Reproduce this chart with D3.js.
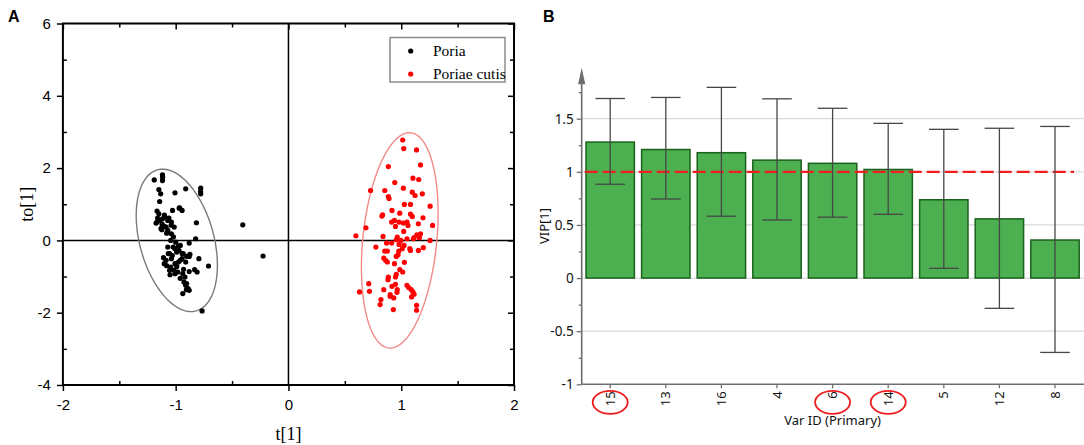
<!DOCTYPE html>
<html><head><meta charset="utf-8">
<script src="https://cdn.jsdelivr.net/npm/d3@7"></script>
<style>body{margin:0;background:#fff}svg{display:block}</style>
</head><body>
<svg id="c" width="1084" height="445"></svg>
<script>
// ---------- Panel A data (OPLS-DA scores) ----------
const poriaT = [-1.190,-1.117,-1.117,-1.149,-1.133,-1.142,-1.006,-0.911,-0.778,-0.778,-1.165,-1.149,-1.165,-1.174,-1.139,-1.117,-1.095,-1.070,-1.028,-0.965,-0.943,-1.038,-1.013,-1.085,-1.070,-1.123,-1.101,-0.816,-0.823,-0.880,-1.038,-1.044,-1.022,-1.070,-1.006,-0.975,-0.959,-0.991,-0.943,-1.054,-1.038,-1.085,-1.108,-1.101,-1.006,-0.975,-0.943,-0.880,-0.794,-0.911,-1.044,-1.013,-0.981,-1.054,-1.006,-0.937,-0.918,-0.832,-0.810,-0.709,-0.927,-0.911,-0.905,-0.880,-0.937,-0.766,-0.405,-0.225,-1.16,-1.12,-1.10,-1.06,-1.04,-1.13,-1.08,-1.02,-1.00,-0.97,-1.03,-0.96,-1.08,-0.99,-0.93,-1.05,-0.88,-0.96,-1.116,-0.779,-0.969,-1.066,-0.933,-0.874,-0.903,-0.889,-0.903];
const poriaTo = [1.674,1.812,1.656,1.408,1.288,1.076,1.316,1.426,1.444,1.288,0.810,0.736,0.506,0.478,0.552,0.598,0.644,0.552,0.828,0.902,0.828,0.506,0.368,0.368,0.276,0.294,0.386,0.488,0.046,-0.074,0.184,0.000,-0.184,-0.184,-0.230,-0.166,-0.138,-0.322,-0.368,-0.368,-0.506,-0.552,-0.478,-0.644,-0.644,-0.598,-0.506,-0.442,-0.506,-0.598,-0.736,-0.828,-0.874,-0.828,-0.920,-0.920,-1.012,-0.810,-0.874,-0.708,-1.150,-1.242,-1.362,-1.380,-1.472,-1.950,0.432,-0.432,0.62,0.45,0.70,0.62,0.42,0.33,0.20,0.10,-0.05,-0.28,-0.42,-0.55,-0.70,-0.72,-0.80,-0.95,-0.86,-1.05,1.746,1.35,0.891,-0.368,-0.368,-0.386,-0.44,-1.333,-1.195];
const cutisT = [1.013,1.022,1.136,1.171,0.886,0.943,1.104,1.155,0.728,0.854,1.019,1.098,1.123,0.886,0.892,1.187,1.028,1.082,1.256,0.918,0.835,0.829,0.987,1.082,1.098,1.193,0.687,0.915,0.940,0.981,1.019,0.949,1.051,1.060,1.152,1.278,1.022,1.171,1.139,0.598,0.839,0.965,0.956,0.997,1.051,1.108,1.114,1.161,1.256,0.775,0.870,0.915,0.981,1.025,1.009,1.076,1.082,1.152,1.196,0.854,0.877,0.978,0.972,0.956,0.845,0.861,0.877,0.940,1.028,0.987,1.013,0.956,0.949,0.886,0.883,0.918,0.712,0.718,0.630,0.845,0.949,1.051,1.066,1.089,1.104,1.114,0.965,0.962,0.902,0.902,0.934,1.092,0.820,0.813,0.930,1.136,1.136];
const cutisTo = [2.778,2.539,2.502,2.088,2.042,1.601,1.720,1.684,1.380,1.380,1.444,1.334,1.242,1.214,1.159,1.288,0.994,0.994,0.948,0.828,0.708,0.672,0.754,0.727,0.662,0.626,0.350,0.506,0.552,0.506,0.478,0.386,0.506,0.414,0.460,0.414,0.248,0.184,0.156,0.129,0.110,0.092,0.018,0.000,0.046,0.046,0.074,0.074,0.000,-0.184,-0.074,-0.074,-0.110,-0.138,-0.230,-0.230,-0.276,-0.276,-0.202,-0.294,-0.294,-0.294,-0.396,-0.442,-0.488,-0.552,-0.598,-0.644,-0.607,-0.810,-0.874,-0.938,-1.012,-1.012,-1.086,-1.270,-1.196,-1.408,-1.426,-1.362,-1.214,-1.242,-1.306,-1.362,-1.426,-1.490,-1.362,-1.435,-1.500,-1.546,-1.592,-1.564,-1.638,-1.776,-1.914,-1.794,-1.932];
const groupNames = ["Poria", "Poriae cutis"];
// confidence ellipses (data units): centre, half extents, correlation
const ellCx = [-0.99, 0.987];
const ellCy = [0, 0];
const ellRx = [0.36, 0.34];
const ellRy = [1.97, 2.98];
const ellRho = [-0.35, 0.25];
const xTicksA = [-2, -1, 0, 1, 2];
const xMinorA = [-1.5, -0.5, 0.5, 1.5];
const yTicksA = [-4, -2, 0, 2, 4, 6];
const yMinorA = [-3, -1, 1, 3, 5];

// ---------- Panel B data (VIP) ----------
const varIds = ["15", "13", "16", "4", "6", "14", "5", "12", "8"];
const vip = [1.28, 1.21, 1.18, 1.11, 1.08, 1.022, 0.737, 0.557, 0.358];
const vipHigh = [1.69, 1.70, 1.795, 1.687, 1.598, 1.456, 1.40, 1.41, 1.427];
const vipLow = [0.883, 0.744, 0.582, 0.547, 0.573, 0.60, 0.092, -0.285, -0.70];
const highlighted = ["15", "6", "14"];
const yTicksB = [-1, -0.5, 0, 0.5, 1, 1.5];
const yMinorB = [-0.75, -0.25, 0.25, 0.75, 1.25, 1.75];
const vipThreshold = 1;

// ---------- styles ----------
const colPoria = "#000000", colCutis = "#ff0000";
const svg = d3.select("#c");
const sans = "'Liberation Sans', Arial, sans-serif";
const serif = "'Liberation Serif', 'Times New Roman', serif";
const ui = "'Noto Sans', 'Open Sans', sans-serif";

// ================= Panel A =================
const A = {l: 62.9, r: 514, t: 23.5, b: 385};
const xA = d3.scaleLinear().domain([-2, 2]).range([A.l, A.r]);
const yA = d3.scaleLinear().domain([-4, 6]).range([A.b, A.t]);
const gA = svg.append("g");

function styleAxis(g, w) {
  g.select(".domain").remove();
  g.selectAll("line").attr("stroke", "#000").attr("stroke-width", w);
}
// minor ticks
gA.append("g").attr("transform", `translate(0,${A.b})`)
  .call(d3.axisBottom(xA).tickValues(xMinorA).tickSize(-4).tickFormat(""))
  .call(g => styleAxis(g, 1.5));
gA.append("g").attr("transform", `translate(${A.l},0)`)
  .call(d3.axisLeft(yA).tickValues(yMinorA).tickSize(-4).tickFormat(""))
  .call(g => styleAxis(g, 1.5));
gA.append("g").attr("transform", `translate(0,${A.t})`)
  .call(d3.axisTop(xA).tickValues(xMinorA).tickSize(-4).tickFormat(""))
  .call(g => styleAxis(g, 1.5));
gA.append("g").attr("transform", `translate(0,${A.t})`)
  .call(d3.axisTop(xA).tickValues(xTicksA).tickSize(-6).tickFormat(""))
  .call(g => styleAxis(g, 1.5));
gA.append("g").attr("transform", `translate(${A.r},0)`)
  .call(d3.axisRight(yA).tickValues(yMinorA).tickSize(-4).tickFormat(""))
  .call(g => styleAxis(g, 1.5));
gA.append("g").attr("transform", `translate(${A.r},0)`)
  .call(d3.axisRight(yA).tickValues(yTicksA).tickSize(-6).tickFormat(""))
  .call(g => styleAxis(g, 1.5));
// major outward ticks with labels
gA.append("g").attr("transform", `translate(0,${A.b})`)
  .call(d3.axisBottom(xA).tickValues(xTicksA).tickSize(6).tickPadding(8).tickFormat(d => String(d)))
  .call(g => { styleAxis(g, 1.5); g.selectAll("text").attr("font-family", sans).attr("font-size", 15).attr("fill", "#000"); });
gA.append("g").attr("transform", `translate(${A.l},0)`)
  .call(d3.axisLeft(yA).tickValues(yTicksA).tickSize(6).tickPadding(6).tickFormat(d => String(d)))
  .call(g => { styleAxis(g, 1.5); g.selectAll("text").attr("font-family", sans).attr("font-size", 15).attr("fill", "#000"); });
// frame
gA.append("rect").attr("x", A.l).attr("y", A.t).attr("width", A.r - A.l).attr("height", A.b - A.t)
  .attr("fill", "none").attr("stroke", "#000").attr("stroke-width", 2);
// zero lines
gA.append("line").attr("x1", xA(0)).attr("x2", xA(0)).attr("y1", A.t).attr("y2", A.b).attr("stroke", "#000").attr("stroke-width", 1.5);
gA.append("line").attr("x1", A.l).attr("x2", A.r).attr("y1", yA(0)).attr("y2", yA(0)).attr("stroke", "#000").attr("stroke-width", 1.5);

// ellipses
const ellColors = ["#7a7a7a", "#f28a8a"];
const ellLine = d3.line().x(d => xA(d[0])).y(d => yA(d[1]));
ellCx.forEach((cx, i) => {
  const pts = d3.range(0, 361, 3).map(a => {
    const t = a * Math.PI / 180;
    return [cx + ellRx[i] * Math.cos(t),
            ellCy[i] + ellRy[i] * (ellRho[i] * Math.cos(t) + Math.sqrt(1 - ellRho[i] ** 2) * Math.sin(t))];
  });
  gA.append("path").attr("d", ellLine(pts)).attr("fill", "none").attr("stroke", ellColors[i]).attr("stroke-width", 1.4);
});

// points
gA.append("g").selectAll("circle").data(poriaT.map((t, i) => [t, poriaTo[i]])).join("circle")
  .attr("cx", d => xA(d[0])).attr("cy", d => yA(d[1])).attr("r", 2.6).attr("fill", colPoria);
gA.append("g").selectAll("circle").data(cutisT.map((t, i) => [t, cutisTo[i]])).join("circle")
  .attr("cx", d => xA(d[0])).attr("cy", d => yA(d[1])).attr("r", 2.6).attr("fill", colCutis);

// legend
const lg = gA.append("g");
lg.append("rect").attr("x", 390).attr("y", 37.5).attr("width", 115).attr("height", 44.5)
  .attr("fill", "#fff").attr("stroke", "#8c8c8c").attr("stroke-width", 1.5);
[colPoria, colCutis].forEach((c, i) => {
  const cy = 51 + i * 23;
  lg.append("circle").attr("cx", 410.7).attr("cy", cy).attr("r", 2.6).attr("fill", c);
  lg.append("text").attr("x", 433).attr("y", cy).attr("dy", "0.35em")
    .attr("font-family", serif).attr("font-size", 15.5).attr("fill", "#000").text(groupNames[i]);
});

// axis titles
gA.append("text").attr("x", xA(0)).attr("y", 440).attr("text-anchor", "middle")
  .attr("font-family", serif).attr("font-size", 18).text("t[1]");
gA.append("text").attr("transform", `translate(33,${(A.t + A.b) / 2}) rotate(-90)`).attr("text-anchor", "middle")
  .attr("font-family", serif).attr("font-size", 18).text("to[1]");
svg.append("text").attr("x", 8).attr("y", 22).attr("font-family", sans).attr("font-weight", "bold").attr("font-size", 16).text("A");

// ================= Panel B =================
const B = {l: 581.7, r: 1084, t: 67.7, b: 384.3};
const xB = d3.scaleBand().domain(varIds).range([582.4, 1082.8]).paddingInner(0.13).paddingOuter(0.065);
const yB = d3.scaleLinear().domain([-1, 1.5]).range([384.3, 118.7]);
const gB = svg.append("g");
const axCol = "#6e6e6e";

// gridlines
gB.append("g").selectAll("line").data(yTicksB.filter(v => v > -1)).join("line")
  .attr("x1", B.l).attr("x2", B.r).attr("y1", d => yB(d)).attr("y2", d => yB(d))
  .attr("stroke", "#d9d9d9").attr("stroke-width", 1.2);

// bars
const bars = varIds.map((id, i) => ({id, v: vip[i], hi: vipHigh[i], lo: vipLow[i]}));
gB.append("g").selectAll("rect").data(bars).join("rect")
  .attr("x", d => xB(d.id)).attr("width", xB.bandwidth())
  .attr("y", d => yB(d.v)).attr("height", d => yB(0) - yB(d.v))
  .attr("fill", "#4caf50").attr("stroke", "#1a621d").attr("stroke-width", 1.5);

// threshold line
gB.append("line").attr("x1", B.l + 3).attr("x2", 1074).attr("y1", yB(vipThreshold)).attr("y2", yB(vipThreshold))
  .attr("stroke", "#f01e1e").attr("stroke-width", 2.2).attr("stroke-dasharray", "13,5");

// error bars
const eb = gB.append("g").attr("stroke", "#474747").attr("stroke-width", 1.3);
bars.forEach(d => {
  const cx = xB(d.id) + xB.bandwidth() / 2;
  eb.append("line").attr("x1", cx).attr("x2", cx).attr("y1", yB(d.hi)).attr("y2", yB(d.lo));
  eb.append("line").attr("x1", cx - 14.8).attr("x2", cx + 14.8).attr("y1", yB(d.hi)).attr("y2", yB(d.hi));
  eb.append("line").attr("x1", cx - 14.8).attr("x2", cx + 14.8).attr("y1", yB(d.lo)).attr("y2", yB(d.lo));
});

// y axis
gB.append("g").attr("transform", `translate(${B.l},0)`)
  .call(d3.axisLeft(yB).tickValues(yMinorB).tickSize(3).tickFormat(""))
  .call(g => { g.select(".domain").remove(); g.selectAll("line").attr("stroke", axCol).attr("stroke-width", 1.3); });
gB.append("g").attr("transform", `translate(${B.l},0)`)
  .call(d3.axisLeft(yB).tickValues(yTicksB).tickSize(5).tickPadding(3).tickFormat(d => String(d)))
  .call(g => { g.select(".domain").remove(); g.selectAll("line").attr("stroke", axCol).attr("stroke-width", 1.3);
    g.selectAll("text").attr("font-family", ui).attr("font-size", 13.5).attr("fill", "#111"); });
gB.append("line").attr("x1", B.l).attr("x2", B.l).attr("y1", B.b).attr("y2", B.t + 10).attr("stroke", axCol).attr("stroke-width", 1.6);
gB.append("path").attr("d", `M${B.l},${B.t} L${B.l - 3.6},${B.t + 16.6} L${B.l + 3.6},${B.t + 16.6} Z`).attr("fill", axCol);

// x axis
gB.append("g").attr("transform", `translate(0,${B.b})`)
  .call(d3.axisBottom(xB).tickSize(4).tickSizeOuter(0))
  .call(g => {
    g.select(".domain").attr("stroke", axCol).attr("stroke-width", 1.6).attr("d", `M${B.l},0H${B.r}`);
    g.selectAll("line").attr("stroke", axCol).attr("stroke-width", 1.3);
    g.selectAll("text").attr("transform", "rotate(-90)").attr("text-anchor", "end")
      .attr("x", -7).attr("y", 0).attr("dy", "0.36em")
      .attr("font-family", ui).attr("font-size", 13).attr("fill", "#111");
  });

// highlight ellipses on selected variables
gB.append("g").selectAll("ellipse").data(highlighted).join("ellipse")
  .attr("cx", d => xB(d) + xB.bandwidth() / 2).attr("cy", B.b + 18)
  .attr("rx", 17.5).attr("ry", 11.5).attr("fill", "none").attr("stroke", "#ee1c1c").attr("stroke-width", 1.8);

// titles
gB.append("text").attr("x", (582.4 + 1082.8) / 2).attr("y", 425).attr("text-anchor", "middle")
  .attr("font-family", ui).attr("font-size", 13).attr("fill", "#111").text("Var ID (Primary)");
gB.append("text").attr("transform", `translate(544,${(B.t + B.b) / 2}) rotate(-90)`).attr("text-anchor", "middle")
  .attr("dy", "0.35em").attr("font-family", ui).attr("font-size", 13).attr("fill", "#111").text("VIP[1]");
svg.append("text").attr("x", 543).attr("y", 22).attr("font-family", sans).attr("font-weight", "bold").attr("font-size", 16).text("B");
</script>
</body></html>
